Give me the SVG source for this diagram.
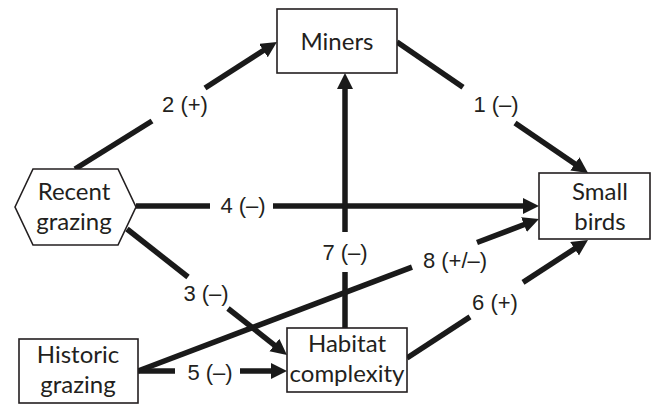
<svg xmlns="http://www.w3.org/2000/svg" width="652" height="404" viewBox="0 0 652 404">
<style>
.node{fill:#fff;stroke:#231f20;stroke-width:1.6}
.nt{font-family:Lato,"Liberation Sans",sans-serif;font-size:24px;fill:#231f20;text-anchor:middle}
.lbl{font-family:"Liberation Sans",Arial,sans-serif;font-size:22px;fill:#231f20;text-anchor:middle}
.e{stroke:#1a1a1a;stroke-width:5.5;fill:none}
</style>
<defs>
<marker id="ah" markerUnits="userSpaceOnUse" markerWidth="18" markerHeight="18" refX="6" refY="8" orient="auto">
<path d="M0,0 L16,8 L0,16 z" fill="#1a1a1a"/>
</marker>
</defs>
<rect width="652" height="404" fill="#fff"/>
<g id="connectors">
<line class="e" x1="75" y1="169" x2="152" y2="121"/>
<line class="e" x1="205" y1="88" x2="268.5" y2="47.3" marker-end="url(#ah)"/>
<line class="e" x1="397" y1="42" x2="463" y2="87.3"/>
<line class="e" x1="515" y1="122.9" x2="579.8" y2="167.3" marker-end="url(#ah)"/>
<line class="e" x1="136" y1="206" x2="210" y2="206"/>
<line class="e" x1="273" y1="206" x2="529" y2="206" marker-end="url(#ah)"/>
<line class="e" x1="127" y1="229" x2="188" y2="277"/>
<line class="e" x1="228" y1="308.5" x2="279.1" y2="348.8" marker-end="url(#ah)"/>
<line class="e" x1="345" y1="328" x2="345" y2="272"/>
<line class="e" x1="345" y1="232" x2="345" y2="83" marker-end="url(#ah)"/>
<line class="e" x1="138" y1="371" x2="412" y2="267.1"/>
<line class="e" x1="477" y1="242.5" x2="529.6" y2="222.5" marker-end="url(#ah)"/>
<line class="e" x1="138" y1="371" x2="175" y2="371"/>
<line class="e" x1="240" y1="371" x2="277" y2="371" marker-end="url(#ah)"/>
<line class="e" x1="407" y1="358" x2="470" y2="316.9"/>
<line class="e" x1="523" y1="282.4" x2="579.6" y2="245.5" marker-end="url(#ah)"/>
<text class="lbl" x="185" y="112">2 (+)</text>
<text class="lbl" x="496" y="112">1 (–)</text>
<text class="lbl" x="243" y="213">4 (–)</text>
<text class="lbl" x="206" y="301">3 (–)</text>
<text class="lbl" x="345" y="260">7 (–)</text>
<text class="lbl" x="455" y="268">8 (+/–)</text>
<text class="lbl" x="210" y="380">5 (–)</text>
<text class="lbl" x="495" y="310">6 (+)</text>
</g>
<g id="miners">
<rect class="node" x="277" y="9" width="120" height="64"/>
<text class="nt" x="337" y="50">Miners</text>
</g>
<g id="recent-grazing">
<polygon class="node" points="15,207 33,169 118,169 136,207 118,245 33,245"/>
<text class="nt" x="74" y="200">Recent</text>
<text class="nt" x="74" y="230">grazing</text>
</g>
<g id="small-birds">
<rect class="node" x="539" y="173" width="111" height="66"/>
<text class="nt" x="600" y="200">Small</text>
<text class="nt" x="600" y="230">birds</text>
</g>
<g id="historic-grazing">
<rect class="node" x="19" y="339" width="119" height="64"/>
<text class="nt" x="78" y="363">Historic</text>
<text class="nt" x="78" y="393">grazing</text>
</g>
<g id="habitat-complexity">
<rect class="node" x="287" y="328" width="120" height="64"/>
<text class="nt" x="347" y="352">Habitat</text>
<text class="nt" x="347" y="382">complexity</text>
</g>
</svg>
